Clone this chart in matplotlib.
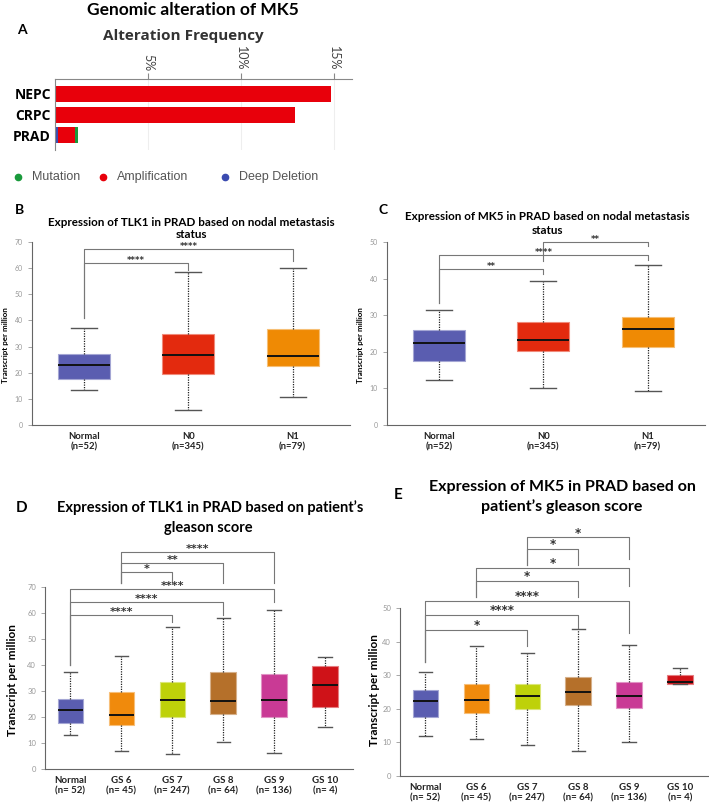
import matplotlib
matplotlib.use("Agg")
import matplotlib.pyplot as plt
from matplotlib.lines import Line2D

plt.rcParams['font.family'] = ['Lato', 'DejaVu Sans']

W, H = 709, 809

# ---- panel A: alteration frequency (%)
alt_groups = ['PRAD', 'CRPC', 'NEPC']
alt_deletion = [0.15, 0.0, 0.0]
alt_amplification = [0.95, 12.9, 14.8]
alt_mutation = [0.15, 0.0, 0.0]

# ---- boxplots: [whislo, q1, med, q3, whishi]
nodal_labels = ['Normal\n(n=52)', 'N0\n(n=345)', 'N1\n(n=79)']
nodal_colors = ['#5a5db0', '#e32a0e', '#ef8a04']
tlk1_nodal = [[13.2, 17.5, 22.8, 27.0, 37.2],
              [5.8, 19.6, 26.8, 35.0, 58.5],
              [10.8, 22.5, 26.5, 36.7, 60.0]]
mk5_nodal = [[12.2, 17.5, 22.3, 26.0, 31.3],
             [10.2, 20.3, 23.3, 28.2, 39.3],
             [9.3, 21.3, 26.1, 29.6, 43.6]]

gleason_labels = ['Normal\n(n= 52)', 'GS 6\n(n= 45)', 'GS 7\n(n= 247)',
                  'GS 8\n(n= 64)', 'GS 9\n(n= 136)', 'GS 10\n(n= 4)']
gleason_colors = ['#5a5db0', '#f08a0c', '#bed10a', '#b5702a', '#c93a95', '#cf1218']
tlk1_gleason = [[13.0, 17.5, 22.6, 26.9, 37.2],
                [6.8, 17.0, 20.8, 29.7, 43.5],
                [5.8, 20.1, 26.5, 33.6, 54.8],
                [10.4, 21.0, 26.1, 37.5, 58.2],
                [6.2, 20.1, 26.5, 36.6, 61.4],
                [16.2, 23.8, 32.4, 39.8, 43.1]]
mk5_gleason = [[12.0, 17.5, 22.3, 25.6, 31.1],
               [11.1, 18.7, 22.5, 27.5, 38.7],
               [9.3, 20.0, 23.7, 27.3, 36.7],
               [7.4, 21.0, 24.9, 29.6, 43.7],
               [10.0, 20.3, 23.7, 28.1, 39.1],
               [27.4, 27.4, 27.9, 30.1, 32.0]]

# significance brackets: (from, to, bar y, left end, right end, label)
tlk1_nodal_sig = [(0, 1, 62.0, 41.0, 59.3, '****'),
                  (0, 2, 67.3, 41.0, 62.8, '****')]
mk5_nodal_sig = [(0, 1, 42.7, 33.3, 41.3, '**'),
                 (0, 2, 46.5, 33.3, 45.2, '****'),
                 (1, 2, 49.9, 44.7, 48.8, '**')]
tlk1_gleason_sig = [(0, 2, 59.5, 40.0, 56.8, '****'),
                    (0, 3, 64.5, 40.0, 59.3, '****'),
                    (0, 4, 69.2, 40.0, 64.4, '****'),
                    (1, 2, 75.9, 71.6, 71.8, '*'),
                    (1, 3, 79.5, 71.6, 71.6, '**'),
                    (1, 4, 83.5, 71.6, 71.6, '****')]
mk5_gleason_sig = [(0, 2, 43.5, 34.0, 38.8, '*'),
                   (0, 3, 48.0, 34.0, 44.0, '****'),
                   (0, 4, 52.0, 34.0, 42.5, '****'),
                   (1, 3, 58.1, 53.4, 53.4, '*'),
                   (1, 4, 61.8, 53.4, 56.5, '*'),
                   (2, 3, 67.5, 62.8, 62.8, '*'),
                   (2, 4, 71.0, 62.8, 64.6, '*')]


def fx(x):
    return x / W


def fy(y):
    return 1 - y / H


def lighten(c, amt=0.45):
    r, g, b = matplotlib.colors.to_rgb(c)
    return (r + (1 - r) * amt, g + (1 - g) * amt, b + (1 - b) * amt)


def box_panel(rect, data, colors, labels, ymax, sig, fs_tick, fs_cat, fs_sig, capw):
    ax = fig.add_axes(rect)
    stats = [dict(whislo=d[0], q1=d[1], med=d[2], q3=d[3], whishi=d[4], fliers=[])
             for d in data]
    bp = ax.bxp(stats, positions=range(len(data)), widths=0.5, patch_artist=True,
                showfliers=False, capwidths=capw,
                medianprops=dict(color='#111111', lw=1.4),
                whiskerprops=dict(color='#222222', lw=0.9, linestyle=(0, (1, 1))),
                capprops=dict(color='#555555', lw=1.0))
    for patch, c in zip(bp['boxes'], colors):
        patch.set_facecolor(c)
        patch.set_edgecolor(lighten(c))
        patch.set_linewidth(0.8)
    ax.set_ylim(0, ymax)
    ax.set_xlim(-0.5, len(data) - 0.45)
    ax.set_xticks(range(len(data)))
    ax.set_xticklabels(labels, fontsize=fs_cat, fontweight='bold', color='#222222')
    ax.tick_params(axis='x', length=0, pad=5)
    ax.tick_params(axis='y', labelsize=fs_tick, labelcolor='#999999', color='#999999',
                   length=3, width=0.6)
    for s in ['top', 'right']:
        ax.spines[s].set_visible(False)
    for s in ['left', 'bottom']:
        ax.spines[s].set_color('#666666')
        ax.spines[s].set_linewidth(0.8)
    for i, j, y, yl, yr, lab in sig:
        ax.plot([i, i, j, j], [yl, y, y, yr], color='#777777', lw=0.8, clip_on=False)
        ax.annotate(lab, xy=((i + j) / 2, y), xytext=(0, -1.5), textcoords='offset points',
                    ha='center', va='bottom', fontsize=fs_sig, fontweight='bold',
                    color='#333333', annotation_clip=False, family='DejaVu Sans')
    return ax


fig = plt.figure(figsize=(7.09, 8.09), dpi=100)

# ---------------- panel A
fig.text(fx(193), fy(10), 'Genomic alteration of MK5', ha='center', va='center',
         fontsize=12.5, fontweight='bold')
fig.text(fx(22), fy(30), 'A', ha='center', va='center', fontsize=10, fontweight='bold')
fig.text(fx(183), fy(36), 'Alteration Frequency', ha='center', va='center',
         fontsize=11, fontweight='bold', color='#333333', family=['Open Sans', 'DejaVu Sans'])
axa = fig.add_axes([fx(55), fy(150), fx(352) - fx(55), fy(79) - fy(150)])
ypos = range(len(alt_groups))
left2 = [a + b for a, b in zip(alt_deletion, alt_amplification)]
axa.barh(ypos, alt_deletion, height=0.77, color='#3b4bb0')
axa.barh(ypos, alt_amplification, left=alt_deletion, height=0.77, color='#e8000b')
axa.barh(ypos, alt_mutation, left=left2, height=0.77, color='#1a9a3c')
axa.set_xlim(0, 15.95)
axa.set_ylim(-0.70, 2.72)
axa.xaxis.tick_top()
axa.set_xticks([5, 10, 15])
axa.set_xticklabels(['5%', '10%', '15%'], rotation=270, fontsize=9, color='#444444')
axa.tick_params(axis='x', length=4, color='#888888', pad=2)
axa.set_yticks(list(ypos))
axa.set_yticklabels(alt_groups, fontsize=10, fontweight='bold',
                    family=['Open Sans', 'DejaVu Sans'])
axa.tick_params(axis='y', length=0, pad=3)
axa.grid(axis='x', color='#eeeeee', lw=0.8)
axa.set_axisbelow(True)
for s in ['right', 'bottom']:
    axa.spines[s].set_visible(False)
for s in ['top', 'left']:
    axa.spines[s].set_color('#888888')

legend_items = [(18, 'Mutation', '#1a9a3c'), (103, 'Amplification', '#e8000b'),
                (225, 'Deep Deletion', '#3b4bb0')]
for x, lab, c in legend_items:
    fig.add_artist(Line2D([fx(x)], [fy(177)], marker='o', markersize=4.5, color=c,
                          transform=fig.transFigure))
    fig.text(fx(x + 14), fy(177), lab, ha='left', va='center', fontsize=9,
             color='#555555', family=['Liberation Sans', 'DejaVu Sans'])

# ---------------- panel B
fig.text(fx(20), fy(210), 'B', ha='center', va='center', fontsize=10, fontweight='bold')
fig.text(fx(191), fy(222), 'Expression of TLK1 in PRAD based on nodal metastasis',
         ha='center', va='center', fontsize=8.4, fontweight='bold')
fig.text(fx(191), fy(235), 'status', ha='center', va='center', fontsize=8.4, fontweight='bold')
axb = box_panel([fx(32), fy(425), fx(350) - fx(32), fy(242) - fy(425)], tlk1_nodal,
                nodal_colors, nodal_labels, 70, tlk1_nodal_sig, 5, 6.8, 6, 0.25)
axb.set_yticks(range(0, 71, 10))
fig.text(fx(6), fy(345), 'Transcript per million', rotation=90, ha='center', va='center',
         fontsize=5.8, fontweight='bold')

# ---------------- panel C
fig.text(fx(383), fy(210), 'C', ha='center', va='center', fontsize=10, fontweight='bold')
fig.text(fx(547), fy(217), 'Expression of MK5 in PRAD based on nodal metastasis',
         ha='center', va='center', fontsize=8.4, fontweight='bold')
fig.text(fx(547), fy(230), 'status', ha='center', va='center', fontsize=8.4, fontweight='bold')
axc = box_panel([fx(387), fy(425), fx(705) - fx(387), fy(242) - fy(425)], mk5_nodal,
                nodal_colors, nodal_labels, 50, mk5_nodal_sig, 5, 6.8, 6, 0.25)
axc.set_yticks(range(0, 51, 10))
fig.text(fx(360), fy(345), 'Transcript per million', rotation=90, ha='center', va='center',
         fontsize=5.8, fontweight='bold')

# ---------------- panel D
fig.text(fx(22), fy(508), 'D', ha='center', va='center', fontsize=11, fontweight='bold')
fig.text(fx(210), fy(508), "Expression of TLK1 in PRAD based on patient\u2019s",
         ha='center', va='center', fontsize=10.5, fontweight='bold')
fig.text(fx(208), fy(528), 'gleason score', ha='center', va='center', fontsize=10.5,
         fontweight='bold')
axd = box_panel([fx(45), fy(768.7), fx(353) - fx(45), fy(587.3) - fy(768.7)], tlk1_gleason,
                gleason_colors, gleason_labels, 70, tlk1_gleason_sig, 5.5, 7, 8, 0.26)
axd.set_yticks(range(0, 71, 10))
fig.text(fx(13), fy(680), 'Transcript per million', rotation=90, ha='center', va='center',
         fontsize=8.5, fontweight='bold')

# ---------------- panel E
fig.text(fx(398), fy(495), 'E', ha='center', va='center', fontsize=11, fontweight='bold')
fig.text(fx(562), fy(487), 'Expression of MK5 in PRAD based on',
         ha='center', va='center', fontsize=11.5, fontweight='bold')
fig.text(fx(562), fy(507), "patient\u2019s gleason score", ha='center', va='center',
         fontsize=11.5, fontweight='bold')
axe = box_panel([fx(400), fy(776), fx(708) - fx(400), fy(608) - fy(776)], mk5_gleason,
                gleason_colors, gleason_labels, 50, mk5_gleason_sig, 5.5, 7, 8.5, 0.26)
axe.set_yticks(range(0, 51, 10))
fig.text(fx(375), fy(690), 'Transcript per million', rotation=90, ha='center', va='center',
         fontsize=8.5, fontweight='bold')

fig.savefig('out.png', dpi=100)
